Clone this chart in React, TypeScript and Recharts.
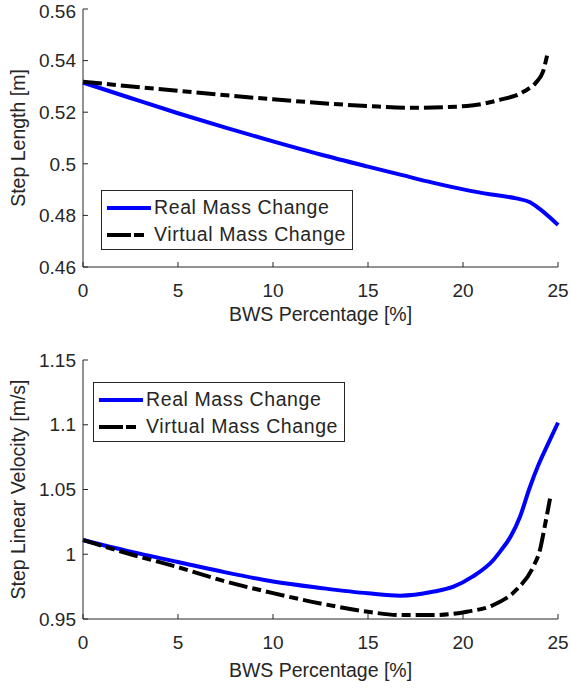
import React from 'react';
import { LineChart, Line, XAxis, YAxis, Legend } from 'recharts';

const xTicks = [0, 5, 10, 15, 20, 25];
const lengthTicks = [0.46, 0.48, 0.5, 0.52, 0.54, 0.56];
const velocityTicks = [0.95, 1, 1.05, 1.1, 1.15];

// step length [m]
const lengthRealX = [0, 2.5, 5, 7.5, 10, 12.5, 15, 16.7, 18.4, 20.2, 21.5, 22.8, 23.5, 24, 24.5, 25];
const lengthRealY = [0.5315, 0.5255, 0.5196, 0.514, 0.5087, 0.5036, 0.4989, 0.4958, 0.4927, 0.4898, 0.4881, 0.4866, 0.4852, 0.4827, 0.4797, 0.4763];
const lengthVirtualX = [0, 5, 10, 15, 17.5, 20.2, 21.9, 23.2, 23.9, 24.2, 24.47];
const lengthVirtualY = [0.5318, 0.5283, 0.525, 0.5224, 0.5217, 0.5224, 0.5247, 0.528, 0.532, 0.5355, 0.5435];

// step linear velocity [m/s]
const velRealX = [0, 2.5, 5, 7.5, 10, 12.5, 15, 16.7, 18.4, 19.5, 20.5, 21.6, 22, 22.5, 23, 23.5, 24, 24.5, 25];
const velRealY = [1.011, 1.002, 0.994, 0.986, 0.979, 0.974, 0.9698, 0.968, 0.971, 0.975, 0.9827, 0.9956, 1.003, 1.0135, 1.029, 1.051, 1.07, 1.086, 1.1016];
const velVirtualX = [0, 2.5, 5, 7.5, 10, 12.5, 15, 16.7, 18.4, 20.2, 21.6, 22.8, 23.7, 24.05, 24.3, 24.58];
const velVirtualY = [1.011, 1.0, 0.99, 0.979, 0.97, 0.962, 0.9556, 0.953, 0.953, 0.9556, 0.9608, 0.9724, 0.9904, 1.0033, 1.0213, 1.043];

const zip = (xs: number[], ys: number[]) => xs.map((x, i) => ({ x, y: ys[i] }));

const FONT = '"Liberation Sans", Arial, Helvetica, sans-serif';
const INK = '#262626';
const REAL = 'Real Mass Change';
const VIRTUAL = 'Virtual Mass Change';

const legendDash: Record<string, string | undefined> = { [REAL]: undefined, [VIRTUAL]: '24 3 10 10' };

const MatlabLegend = (props: any) => {
  const items = props.payload || [];
  return (
    <div style={{ border: `1px solid ${INK}`, background: '#fff', width: 252, height: 60, boxSizing: 'border-box', paddingTop: 3 }}>
      {items.map((it: any) => (
        <div key={it.value} style={{ display: 'flex', alignItems: 'center', height: 27 }}>
          <svg width={48} height={10} style={{ marginLeft: 4, flex: 'none' }}>
            <line x1={1} y1={5} x2={45} y2={5} stroke={it.color} strokeWidth={4} strokeDasharray={legendDash[it.value]} />
          </svg>
          <span style={{ fontFamily: FONT, fontSize: 19.5, letterSpacing: 0.6, color: INK, whiteSpace: 'nowrap' }}>{it.value}</span>
        </div>
      ))}
    </div>
  );
};

const tickStyle = { fill: INK, fontSize: 19, fontFamily: FONT };
const labelStyle = { fill: INK, fontSize: 19.5, fontFamily: FONT };

type PanelProps = {
  top: number;
  height: number;
  margin: { top: number; right: number; bottom: number; left: number };
  yTicks: number[];
  yLabel: string;
  xLabelOffset: number;
  real: { x: number; y: number }[];
  virtual: { x: number; y: number }[];
  legendPos: { left: number; top: number };
};

function Panel(p: PanelProps) {
  return (
    <div style={{ position: 'absolute', left: 0, top: p.top }}>
      <LineChart width={571} height={p.height} margin={p.margin}>
        <XAxis
          dataKey="x"
          type="number"
          domain={[0, 25]}
          ticks={xTicks}
          allowDuplicatedCategory={false}
          height={60}
          tickSize={-5}
          tickMargin={22}
          tick={tickStyle}
          stroke={INK}
          label={{ value: 'BWS Percentage [%]', position: 'insideBottom', offset: p.xLabelOffset, style: labelStyle }}
        />
        <YAxis
          type="number"
          domain={[p.yTicks[0], p.yTicks[p.yTicks.length - 1]]}
          ticks={p.yTicks}
          width={83}
          tickSize={-5}
          tickMargin={12}
          tick={tickStyle}
          stroke={INK}
          tickFormatter={(v: number) => String(v)}
          label={{ value: p.yLabel, angle: -90, position: 'insideLeft', offset: 18, style: { ...labelStyle, textAnchor: 'middle' } }}
        />
        <Legend
          layout="vertical"
          align="center"
          verticalAlign="middle"
          content={<MatlabLegend />}
          wrapperStyle={{ left: p.legendPos.left, top: p.legendPos.top, width: 252, height: 60 }}
        />
        <Line
          data={p.real}
          dataKey="y"
          name={REAL}
          type="monotone"
          stroke="#0000ff"
          strokeWidth={4}
          dot={false}
          isAnimationActive={false}
        />
        <Line
          data={p.virtual}
          dataKey="y"
          name={VIRTUAL}
          type="monotone"
          stroke="#000000"
          strokeWidth={4}
          strokeDasharray="19 5 9 5"
          dot={false}
          isAnimationActive={false}
        />
      </LineChart>
    </div>
  );
}

export default function App() {
  return (
    <div style={{ position: 'absolute', left: 0, top: 0, width: 571, height: 689, background: '#fff' }}>
      <Panel
        top={0}
        height={330}
        margin={{ top: 9, right: 13, bottom: 3, left: 0 }}
        yTicks={lengthTicks}
        yLabel="Step Length [m]"
        xLabelOffset={6}
        real={zip(lengthRealX, lengthRealY)}
        virtual={zip(lengthVirtualX, lengthVirtualY)}
        legendPos={{ left: 101, top: 190 }}
      />
      <Panel
        top={330}
        height={359}
        margin={{ top: 30, right: 13, bottom: 10, left: 0 }}
        yTicks={velocityTicks}
        yLabel="Step Linear Velocity [m/s]"
        xLabelOffset={2}
        real={zip(velRealX, velRealY)}
        virtual={zip(velVirtualX, velVirtualY)}
        legendPos={{ left: 93, top: 52 }}
      />
    </div>
  );
}
